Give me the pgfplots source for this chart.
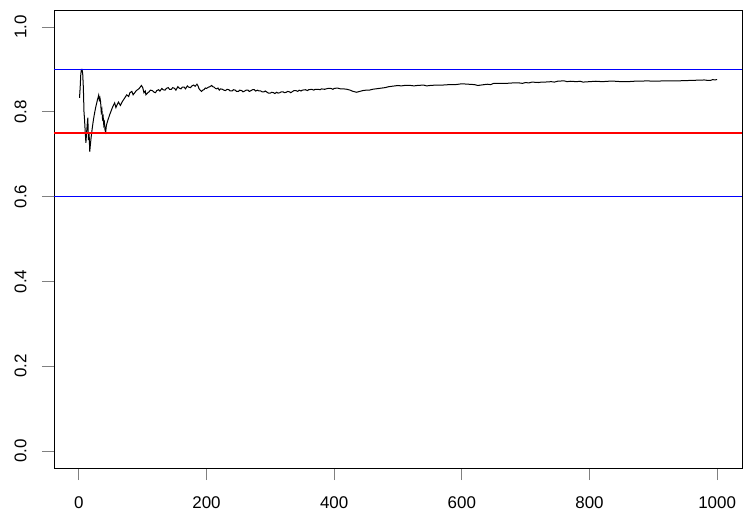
\documentclass[border=0pt]{standalone}
\usepackage{fontspec}
\setmainfont{Liberation Sans}
\usepackage{pgfplots}
\pgfplotsset{compat=1.18}
\begin{document}
\begin{tikzpicture}
\begin{axis}[
  at={(0,0)}, anchor=south west,
  scale only axis, width=688bp, height=458bp,
  xmin=-39, xmax=1039, ymin=-0.04, ymax=1.04,
  axis line style={line width=0.8bp},
  xtick={0,200,400,600,800,1000},
  ytick={0,0.2,0.4,0.6,0.8,1.0},
  yticklabels={0.0,0.2,0.4,0.6,0.8,1.0},
  xtick pos=lower, ytick pos=left,
  tick align=outside, major tick length=12bp,
  tick style={line width=0.8bp},
  ticklabel style={font=\fontsize{17}{20}\selectfont},
  /pgf/number format/assume math mode=true,
  /pgf/number format/fixed,
  /pgf/number format/1000 sep={},
  xticklabel shift=13bp,
  yticklabel shift=12bp,
  yticklabel style={rotate=90, anchor=south},
]
\addplot[color=black, line width=1bp] coordinates {
(1,0.833)(2,0.857)(3,0.889)(4,0.9)(5,0.9)(6,0.889)(7,0.857)(8,0.8)(9,0.778)(10,0.75)
(11,0.727)(12,0.75)(13,0.769)(14,0.786)(15,0.733)(16,0.75)(17,0.706)(18,0.722)(19,0.737)(20,0.75)
(21,0.762)(22,0.773)(23,0.783)(24,0.792)(25,0.8)(26,0.808)(27,0.815)(28,0.821)(29,0.828)(30,0.833)
(31,0.839)(32,0.828)(33,0.833)(34,0.824)(35,0.8)(36,0.806)(37,0.784)(38,0.789)(39,0.769)(40,0.775)
(41,0.756)(42,0.752)(43,0.767)(44,0.773)(45,0.778)(46,0.783)(47,0.787)(48,0.792)(49,0.796)(50,0.8)
(52,0.808)(54,0.815)(56,0.821)(58,0.81)(60,0.817)(62,0.823)(65,0.815)(68,0.824)(72,0.833)(75,0.84)
(78,0.836)(80,0.845)(83,0.848)(85,0.84)(88,0.846)(90,0.85)(93,0.853)(95,0.856)(98,0.862)(100,0.857)
(102,0.845)(104,0.849)(105,0.84)(108,0.845)(110,0.847)(112,0.851)(115,0.85)(118,0.846)(120,0.845)(122,0.85)
(125,0.852)(127,0.849)(130,0.855)(132,0.852)(135,0.851)(137,0.855)(140,0.857)(142,0.853)(145,0.853)(147,0.857)
(150,0.855)(152,0.851)(155,0.859)(157,0.856)(160,0.854)(162,0.858)(165,0.858)(167,0.854)(170,0.861)(172,0.858)
(175,0.857)(177,0.861)(180,0.863)(182,0.86)(185,0.865)(187,0.86)(188,0.855)(190,0.851)(192,0.848)(194,0.851)
(196,0.852)(198,0.856)(200,0.855)(203,0.858)(205,0.859)(208,0.862)(210,0.859)(212,0.858)(214,0.855)(216,0.854)
(218,0.856)(220,0.851)(222,0.854)(225,0.853)(227,0.851)(230,0.85)(232,0.853)(235,0.852)(237,0.849)(240,0.849)
(242,0.852)(245,0.851)(247,0.848)(250,0.848)(252,0.851)(255,0.85)(257,0.847)(260,0.849)(262,0.851)(265,0.851)
(267,0.848)(270,0.85)(272,0.852)(275,0.852)(277,0.849)(280,0.851)(282,0.849)(285,0.849)(287,0.847)(290,0.847)
(292,0.849)(295,0.846)(297,0.844)(300,0.844)(302,0.846)(305,0.845)(307,0.843)(310,0.846)(312,0.844)(315,0.845)
(317,0.847)(320,0.847)(322,0.845)(325,0.846)(327,0.848)(330,0.847)(332,0.845)(335,0.848)(337,0.85)(340,0.85)
(343,0.848)(345,0.851)(348,0.849)(350,0.851)(355,0.852)(358,0.85)(360,0.852)(365,0.853)(368,0.851)(370,0.853)
(375,0.853)(378,0.852)(380,0.854)(385,0.853)(390,0.855)(395,0.855)(398,0.853)(400,0.855)(405,0.856)(410,0.854)
(415,0.854)(420,0.853)(425,0.851)(428,0.849)(430,0.848)(435,0.846)(440,0.848)(445,0.85)(450,0.851)(455,0.851)
(460,0.853)(465,0.854)(470,0.855)(475,0.856)(480,0.857)(485,0.859)(490,0.86)(495,0.861)(500,0.862)(505,0.861)
(510,0.862)(520,0.862)(525,0.861)(530,0.862)(540,0.863)(545,0.861)(550,0.862)(560,0.863)(570,0.863)(580,0.864)
(590,0.864)(600,0.866)(610,0.865)(620,0.864)(625,0.862)(630,0.863)(640,0.865)(645,0.864)(650,0.867)(660,0.867)
(670,0.867)(680,0.868)(690,0.868)(695,0.867)(700,0.869)(705,0.868)(710,0.870)(720,0.869)(725,0.87)(730,0.870)
(740,0.871)(745,0.87)(750,0.872)(760,0.873)(765,0.871)(770,0.872)(780,0.871)(785,0.872)(790,0.870)(800,0.871)
(810,0.872)(820,0.871)(830,0.872)(840,0.872)(850,0.871)(860,0.871)(870,0.872)(880,0.872)(890,0.873)(900,0.872)
(920,0.873)(940,0.873)(960,0.874)(980,0.875)(985,0.874)(990,0.874)(993,0.876)(996,0.875)(1000,0.876)
};
\addplot[color=blue, line width=1.2bp] coordinates {(-39,0.6) (1039,0.6)};
\addplot[color=red, line width=1.2bp] coordinates {(-39,0.75) (1039,0.75)};
\addplot[color=blue, line width=1.6bp] coordinates {(-39,0.8997) (1039,0.8997)};
\end{axis}
\pgfresetboundingbox
\useasboundingbox (-54bp,-50bp) rectangle (690bp,468bp);
\end{tikzpicture}
\end{document}
